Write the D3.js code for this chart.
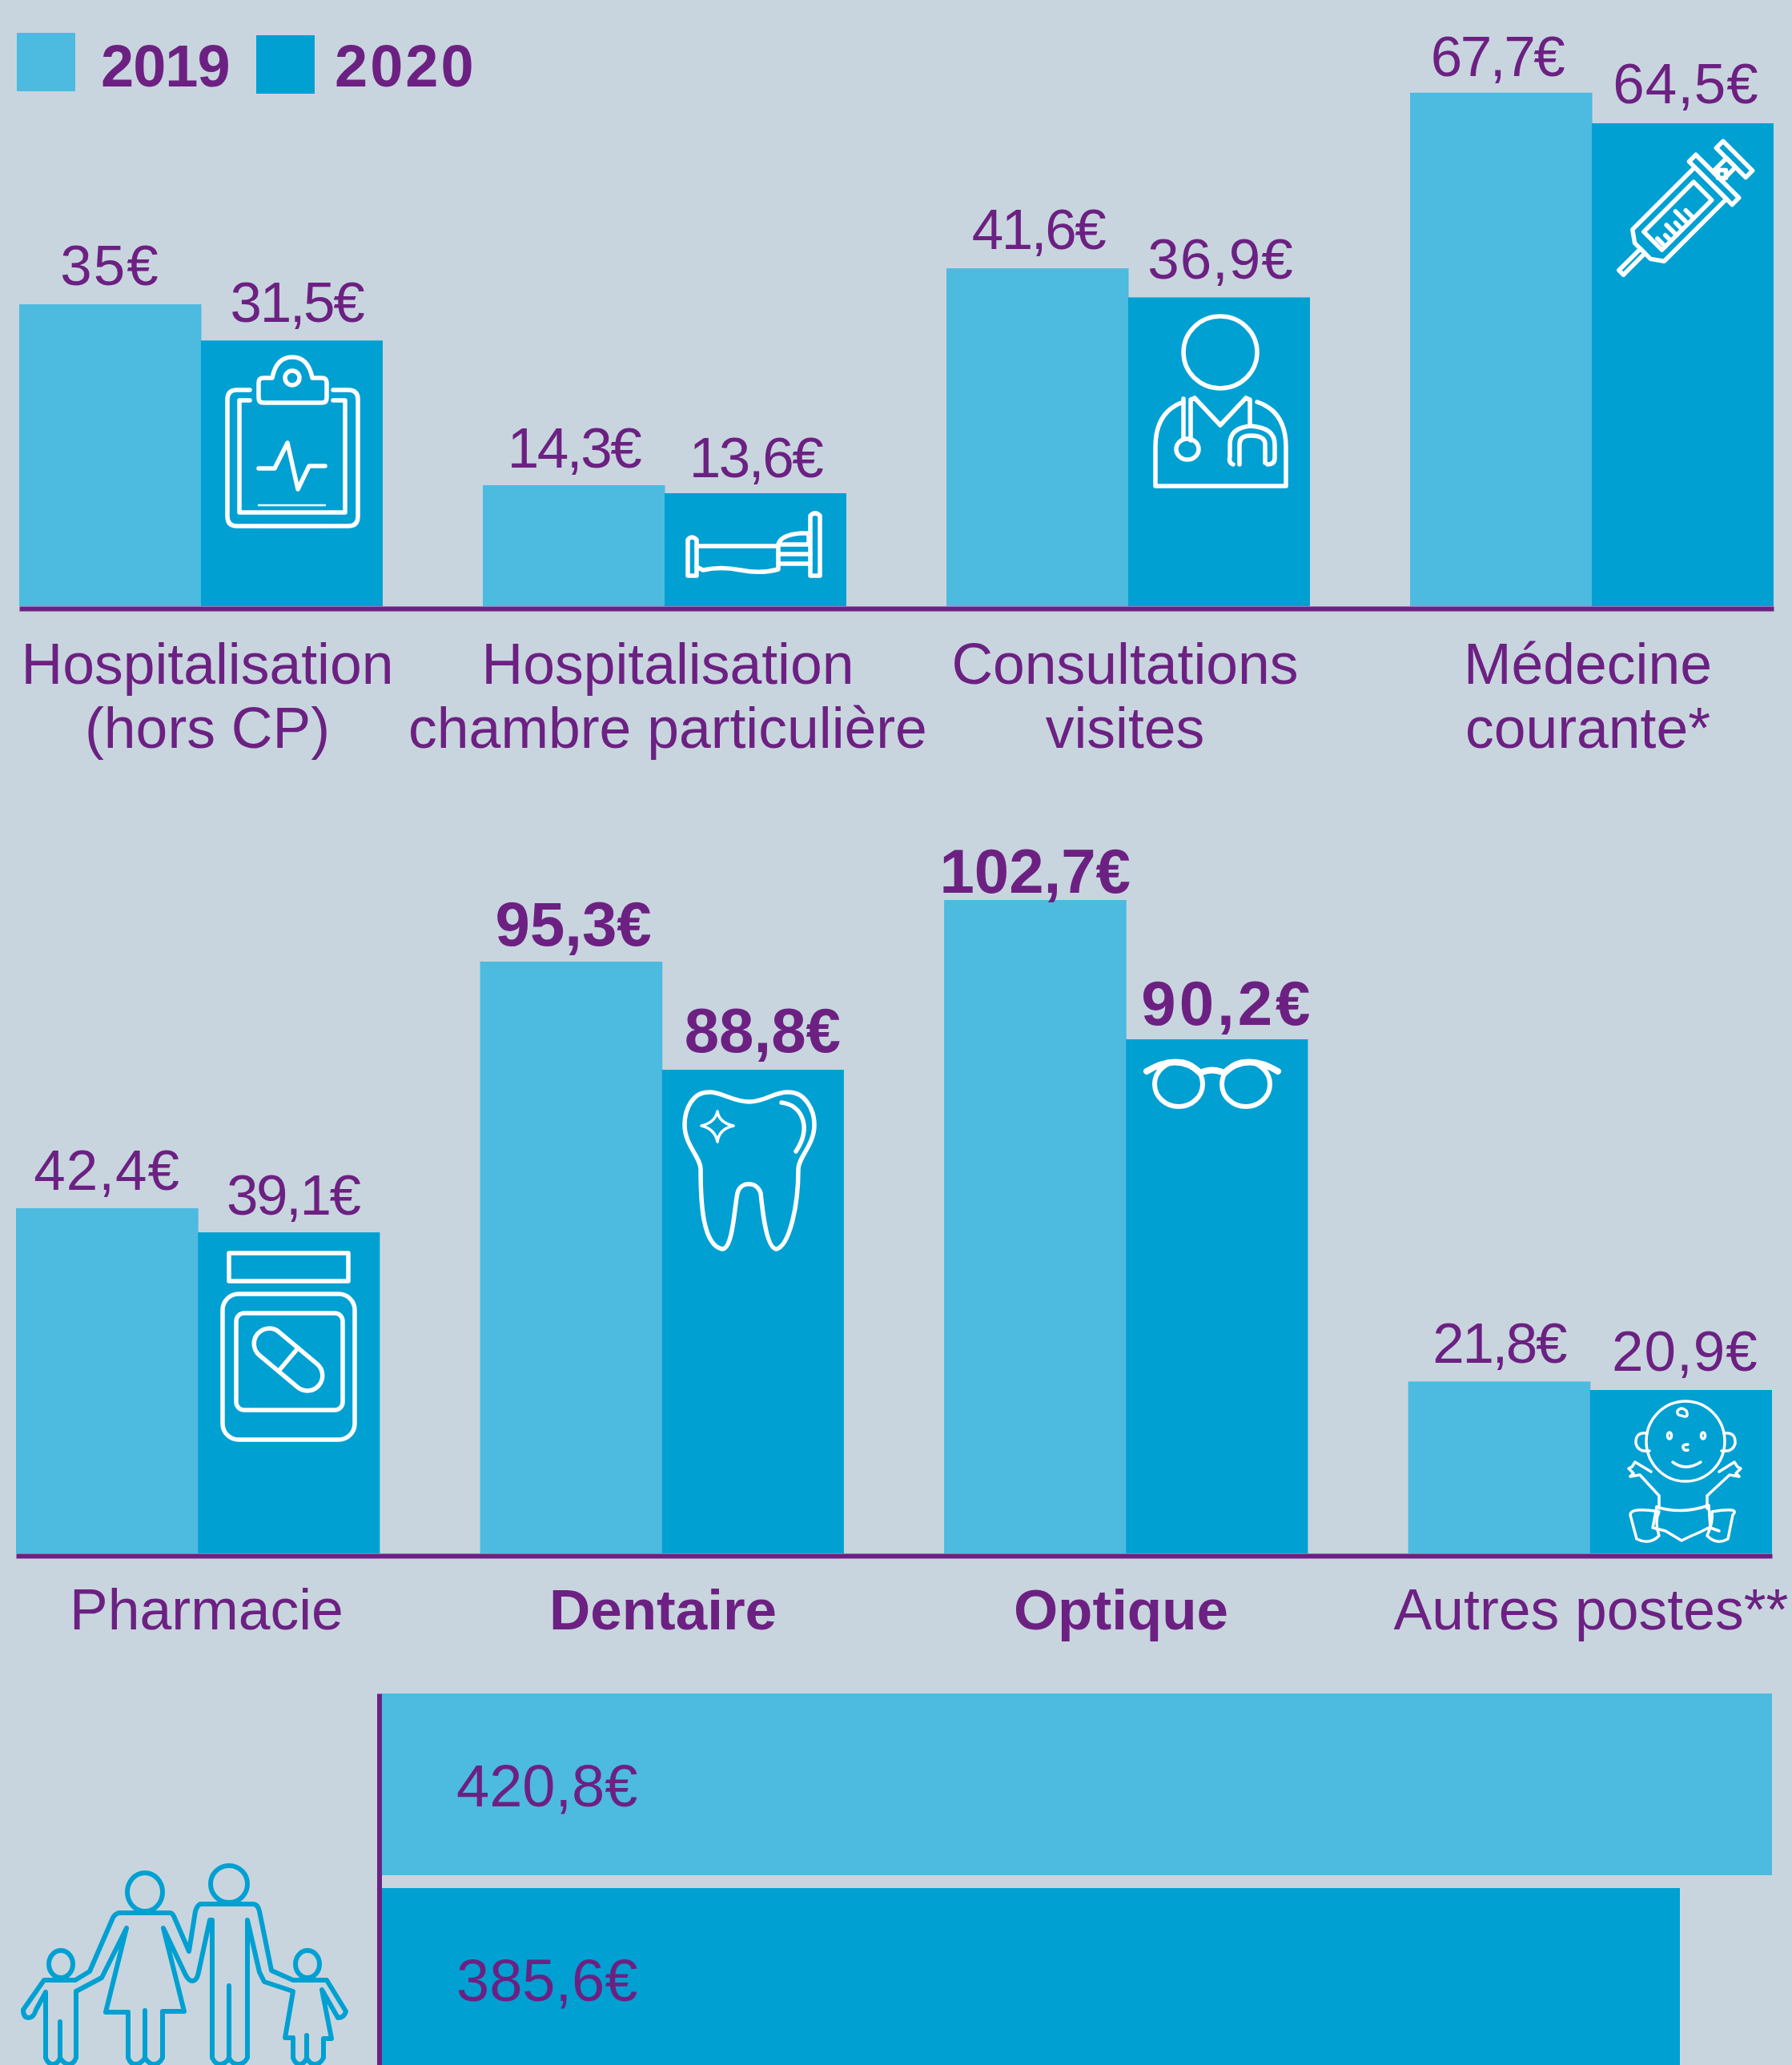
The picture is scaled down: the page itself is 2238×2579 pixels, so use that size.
<!DOCTYPE html>
<html lang="fr">
<head>
<meta charset="UTF-8">
<title>Dépenses de santé 2019 / 2020</title>
<script src="https://d3js.org/d3.v7.min.js"></script>
<style>
    html, body { margin: 0; padding: 0; background: #c8d5de; }
    svg { display: block; }
    text { font-family: "Liberation Sans", Arial, sans-serif; fill: #6c2182; }
    .val { font-size: 71px; text-anchor: middle; }
    .val.strong { font-size: 78px; font-weight: bold; }
    .cat { font-size: 71.5px; text-anchor: middle; }
    .cat.strong { font-weight: bold; font-size: 71px; }
    .axis path { stroke: #6c2182; stroke-width: 6; fill: none; }
    .icon * { fill: none; stroke: #fff; stroke-width: 5.5; stroke-linejoin: round; stroke-linecap: round; }
</style>
</head>
<body>
<script>
    var years = ["2019", "2020"];

    var catsTop = ["Hospitalisation (hors CP)", "Hospitalisation chambre particulière", "Consultations visites", "Médecine courante*"];
    var top2019 = [35, 14.3, 41.6, 67.7];
    var top2020 = [31.5, 13.6, 36.9, 64.5];

    var catsBottom = ["Pharmacie", "Dentaire", "Optique", "Autres postes**"];
    var bottom2019 = [42.4, 95.3, 102.7, 21.8];
    var bottom2020 = [39.1, 88.8, 90.2, 20.9];

    var totals = [420.8, 385.6];

    // line breaks and which categories are set in bold in the original
    var catLinesTop = [["Hospitalisation", "(hors CP)"], ["Hospitalisation", "chambre particulière"], ["Consultations", "visites"], ["Médecine", "courante*"]];
    var strongBottom = ["Dentaire", "Optique"];

    var width = 2238, height = 2579;
    var colors = {"2019": "#4dbadf", "2020": "#00a0d2"};

    var svg = d3.select("body").append("svg")
        .attr("width", width)
        .attr("height", height);
    svg.append("rect").attr("width", width).attr("height", height).attr("fill", "#c8d5de");

    function fmt(v) {
        return String(v).replace(".", ",") + "€";
    }

    // the original font has a narrow 1 and 7, Liberation does not
    function valueSpacing(v, strong) {
        var s = fmt(v);
        if (strong) return s === "90,2€" ? "4px" : "0px";
        if (s === "35€") return "2px";
        return /[17]/.test(s) ? "-2.4px" : "1px";
    }

    // the printed bars are not quite proportional to their labels, so the
    // height scales are piecewise, fitted to what the picture shows
    var hTop = d3.scaleLinear()
        .domain([0, 13.6, 14.3, 32, 35, 37, 42, 65, 68])
        .range([0, 141, 151, 337, 377, 386, 425, 607, 645]);
    var hBottom = d3.scaleLinear()
        .domain([0, 21, 22, 39, 42.4, 88.8, 90.2, 95.3, 102.7])
        .range([0, 205, 217, 400, 431, 604, 642, 739, 816]);

    function panel(opts) {
        var x = d3.scaleBand().domain(opts.cats).range(opts.xRange).paddingInner(0.216);
        var xInner = d3.scaleBand().domain(years).range([0, x.bandwidth()]);
        var g = svg.append("g");

        var groups = g.selectAll("g.group")
            .data(opts.cats)
            .enter().append("g")
            .attr("class", "group")
            .attr("transform", function (d) { return "translate(" + x(d) + ",0)"; });

        years.forEach(function (yr, k) {
            var vals = k === 0 ? opts.v2019 : opts.v2020;
            groups.append("rect")
                .attr("x", xInner(yr))
                .attr("width", xInner.bandwidth() + (k === 0 ? 0.5 : 0))
                .attr("y", function (d, i) { return opts.base - opts.h(vals[i]); })
                .attr("height", function (d, i) { return opts.h(vals[i]); })
                .attr("fill", colors[yr]);
            groups.append("text")
                .attr("class", function (d) { return opts.strong.indexOf(d) >= 0 ? "val strong" : "val"; })
                .attr("x", function (d, i) { return xInner(yr) + xInner.bandwidth() / 2 + opts.labelDx[k][i]; })
                .attr("y", function (d, i) { return opts.base - opts.h(vals[i]) - opts.labelGap[k][i]; })
                .style("letter-spacing", function (d, i) { return valueSpacing(vals[i], opts.strong.indexOf(d) >= 0); })
                .text(function (d, i) { return fmt(vals[i]); });
        });

        g.append("g")
            .attr("class", "axis")
            .attr("transform", "translate(0," + (opts.base + 3) + ")")
            .call(d3.axisBottom(x).tickSize(0).tickFormat(""));
        return g;
    }

    panel({
        cats: catsTop, v2019: top2019, v2020: top2020, h: hTop, base: 757, xRange: [24, 2215], strong: [],
        labelDx: [[0, 0, 1, -5], [6, 0, 2, 4]],
        labelGap: [[24, 22, 24, 21], [23, 20, 23, 25]]
    });
    panel({
        cats: catsBottom, v2019: bottom2019, v2020: bottom2020, h: hBottom, base: 1940, xRange: [20, 2213], strong: strongBottom,
        labelDx: [[0, 3, 0, 0], [5, 12, 13, 5]],
        labelGap: [[23, 20, 9, 23], [22, 22, 18, 24]]
    });

    // category labels
    var catTopX = [259, 834, 1405, 1983];
    catLinesTop.forEach(function (lines, i) {
        lines.forEach(function (line, j) {
            svg.append("text").attr("class", "cat")
                .attr("x", catTopX[i]).attr("y", 854 + j * 80).text(line);
        });
    });
    var catBottomX = [258, 828, 1400, 1987];
    catsBottom.forEach(function (c, i) {
        svg.append("text")
            .attr("class", strongBottom.indexOf(c) >= 0 ? "cat strong" : "cat")
            .attr("x", catBottomX[i]).attr("y", 2035).text(c);
    });

    // legend
    var legendX = d3.scaleOrdinal().domain(years).range([21, 320]);
    var legendY = d3.scaleOrdinal().domain(years).range([41, 44]);
    var legend = svg.selectAll("g.legend").data(years).enter().append("g").attr("class", "legend");
    legend.append("rect")
        .attr("x", function (d) { return legendX(d); })
        .attr("y", function (d) { return legendY(d); })
        .attr("width", 73).attr("height", 73)
        .attr("fill", function (d) { return colors[d]; });
    legend.append("text")
        .attr("x", function (d) { return legendX(d) + (d === "2019" ? 105 : 98); })
        .attr("y", 107.5)
        .style("font-size", "74px").style("font-weight", "bold")
        .style("letter-spacing", function (d) { return d === "2019" ? "-1px" : "3px"; })
        .text(function (d) { return d; });

    // totals, horizontal bars running off the bottom of the picture
    var xTotal = d3.scaleLinear().domain([0, 385.6, 420.8]).range([476, 2098, 2213]);
    var yTotal = d3.scaleBand().domain(years).range([2115, 2585]).paddingInner(0.066);
    svg.selectAll("rect.total").data(totals).enter().append("rect")
        .attr("class", "total")
        .attr("x", xTotal(0))
        .attr("y", function (d, i) { return yTotal(years[i]); })
        .attr("width", function (d) { return xTotal(d) - xTotal(0); })
        .attr("height", yTotal.bandwidth())
        .attr("fill", function (d, i) { return colors[years[i]]; });
    svg.selectAll("text.total").data(totals).enter().append("text")
        .attr("class", "total")
        .attr("x", 570)
        .attr("y", function (d, i) { return yTotal(years[i]) + 141; })
        .style("font-size", "74px")
        .text(fmt);
    svg.append("g").attr("class", "axis")
        .attr("transform", "translate(473.5,0)")
        .call(d3.axisLeft(yTotal).tickSize(0).tickFormat(""));

    // pictograms
    var icons = svg.append("g").attr("class", "icon");
    function p(d, sw) {
        var el = icons.append("path").attr("d", d);
        if (sw) el.style("stroke-width", sw);
        return el;
    }
    function ell(cx, cy, rx, ry, sw) {
        var el = icons.append("ellipse").attr("cx", cx).attr("cy", cy).attr("rx", rx).attr("ry", ry);
        if (sw) el.style("stroke-width", sw);
        return el;
    }

    // clipboard
    p("M312 487H296Q284 487 284 499V645Q284 657 296 657H435Q447 657 447 645V499Q447 487 435 487H416");
    p("M312 500H299V640H431V500H416");
    p("M329 472Q323 472 323 478V497Q323 503 329 503H402Q408 503 408 497V478Q408 472 402 472H390Q385 446 365 446Q345 446 340 472Z");
    ell(365, 472, 9, 9);
    p("M323 585H343L359 553L372 611L386 582H406");
    p("M323 631H406", 2.5);
    p("M323 658H406", 2.5);

    // bed
    p("M1012 719V644Q1018 638 1024 644V719Z");
    p("M859 719V674Q864 668 870 674V719Z");
    p("M870 682H972V711Q950 717 925 712Q900 707 878 712L870 708");
    p("M972 680Q975 668 1000 666H1010V680Z");
    p("M972 692H1012M972 704H1012");

    // doctor
    ell(1524, 440, 46, 45);
    p("M1478 502Q1443 514 1443 558V607H1606V558Q1606 514 1570 502");
    p("M1492 497L1524 531L1556 497M1492 497L1487 499V550M1556 497L1561 499V530");
    ell(1483, 561, 14, 13);
    p("M1478 498V548");
    p("M1540 580Q1534 578 1536 570V555Q1536 534 1562 532Q1592 534 1592 555V572Q1592 580 1583 580");
    p("M1548 580V555Q1548 544 1562 544Q1580 544 1580 555V578");

    // syringe
    var syr = icons.append("g").attr("transform", "translate(2101,264) rotate(-45)");
    function sp(d) { syr.append("path").attr("d", d); }
    sp("M-108 -4H-70V4H-108Z");
    sp("M-70 -14L-60 -28H50V28H-60L-70 14Z");
    sp("M50 -38H62V38H50Z");
    sp("M62 -8H86V8H62Z");
    sp("M86 -26H98V26H86Z");
    sp("M-52 -16H36V16H-52Z");
    sp("M-46 16V2M-36 16V6M-26 16V-2M-16 16V4M-6 16V-6M4 16V2");
    sp("M68 -5L75 2L68 9L61 2Z");

    // pill bottle
    p("M286 1565H435V1600H286Z");
    icons.append("rect").attr("x", 278).attr("y", 1616).attr("width", 165).attr("height", 182).attr("rx", 20);
    icons.append("rect").attr("x", 295).attr("y", 1640).attr("width", 133).attr("height", 121).attr("rx", 10);
    var pill = icons.append("g").attr("transform", "translate(360,1698) rotate(40)");
    pill.append("rect").attr("x", -50).attr("y", -19).attr("width", 100).attr("height", 38).attr("rx", 19);
    pill.append("path").attr("d", "M0 -19V19");

    // tooth
    p("M936 1376C915 1376 900 1363 885 1364C865 1364 855 1385 855 1405C855 1430 875 1445 875 1460C875 1500 877 1555 902 1560C915 1560 917 1510 921 1490C925 1475 945 1475 950 1490C952 1510 957 1560 970 1560C985 1555 997 1510 997 1460C997 1445 1017 1430 1017 1405C1017 1385 1005 1364 985 1364C968 1363 955 1376 936 1376Z");
    p("M976 1377C1002 1380 1014 1408 994 1438");
    p("M896 1388Q898 1402 916 1406Q898 1410 896 1426Q893 1410 876 1406Q893 1402 896 1388Z", 3.5);

    // glasses
    ell(1472, 1354, 30, 28, 6);
    ell(1556, 1354, 30, 28, 6);
    p("M1432 1338Q1472 1314 1499 1340Q1514 1333 1529 1340Q1556 1314 1596 1338", 8);

    // baby
    icons.append("g").call(function (b) {
        b.append("ellipse").attr("cx", 2105).attr("cy", 1800).attr("rx", 49).attr("ry", 50);
        b.append("path").attr("d", "M2057 1790Q2042 1788 2043 1803Q2046 1814 2060 1812");
        b.append("path").attr("d", "M2153 1790Q2168 1788 2167 1803Q2164 1814 2150 1812");
        b.append("ellipse").attr("cx", 2085).attr("cy", 1793).attr("rx", 2.5).attr("ry", 4);
        b.append("ellipse").attr("cx", 2127).attr("cy", 1793).attr("rx", 2.5).attr("ry", 4);
        b.append("path").attr("d", "M2108 1804Q2101 1804 2102 1808Q2103 1812 2108 1811");
        b.append("path").attr("d", "M2089 1826Q2105 1838 2124 1826");
        b.append("path").attr("d", "M2100 1768Q2110 1772 2106 1762Q2100 1756 2095 1762Q2094 1768 2100 1768");
        b.append("path").attr("d", "M2062 1838L2042 1826L2038 1832L2034 1834L2040 1840L2036 1844L2048 1842L2072 1868L2072 1884");
        b.append("path").attr("d", "M2147 1838L2166 1826L2170 1832L2174 1834L2168 1840L2172 1844L2160 1842L2132 1868L2132 1884");
        b.append("path").attr("d", "M2069 1882Q2100 1892 2134 1880L2136 1908L2147 1912");
        b.append("path").attr("d", "M2069 1882L2064 1908L2080 1912Q2090 1918 2100 1924Q2112 1918 2122 1914L2134 1908");
        b.append("path").attr("d", "M2072 1888Q2036 1882 2036 1892L2044 1922Q2060 1930 2072 1918Q2066 1900 2072 1888");
        b.append("path").attr("d", "M2138 1888Q2174 1882 2164 1892L2158 1922Q2144 1930 2132 1918Q2140 1900 2138 1888");
        b.selectAll("*").style("stroke-width", 3.5);
    });

    // family
    var fam = svg.append("g").attr("fill", "none").attr("stroke", "#00a0d2").attr("stroke-width", 6).attr("stroke-linejoin", "round");
    fam.append("ellipse").attr("cx", 181).attr("cy", 2363).attr("rx", 22).attr("ry", 24);
    fam.append("ellipse").attr("cx", 286).attr("cy", 2353).attr("rx", 23).attr("ry", 23);
    fam.append("ellipse").attr("cx", 76).attr("cy", 2453).attr("rx", 15).attr("ry", 17);
    fam.append("ellipse").attr("cx", 384).attr("cy", 2453).attr("rx", 15).attr("ry", 17);
    fam.append("path").attr("d",
        "M148 2389Q143 2391 141 2395L112 2462L94 2473H55L29 2510Q29 2520 36 2520Q42 2520 45 2510L57 2488V2570Q60 2578 66 2578Q72 2578 75 2570V2525V2570Q80 2578 86 2578Q92 2578 95 2570V2487L127 2470L158 2408L132 2513H160V2570Q163 2578 169 2578Q176 2578 181 2570V2511V2570Q186 2578 192 2578Q199 2578 203 2570V2512H230L204 2408L232 2467Q236 2474 240 2474Q246 2474 248 2463L262 2398H265V2570Q269 2578 274 2578Q282 2578 286 2570V2480V2570Q290 2578 297 2578Q305 2578 309 2570V2398L324 2463L330 2475L366 2487L356 2545H366V2570Q369 2578 374 2578Q380 2578 383 2570V2542V2570Q387 2578 393 2578Q400 2578 404 2570V2546H414L402 2485L422 2520Q430 2520 432 2512L408 2473H366L339 2461L324 2387Q322 2378 316 2378H250Q246 2380 244 2387L236 2437L217 2393Q215 2389 212 2389Z");
</script>
</body>
</html>
